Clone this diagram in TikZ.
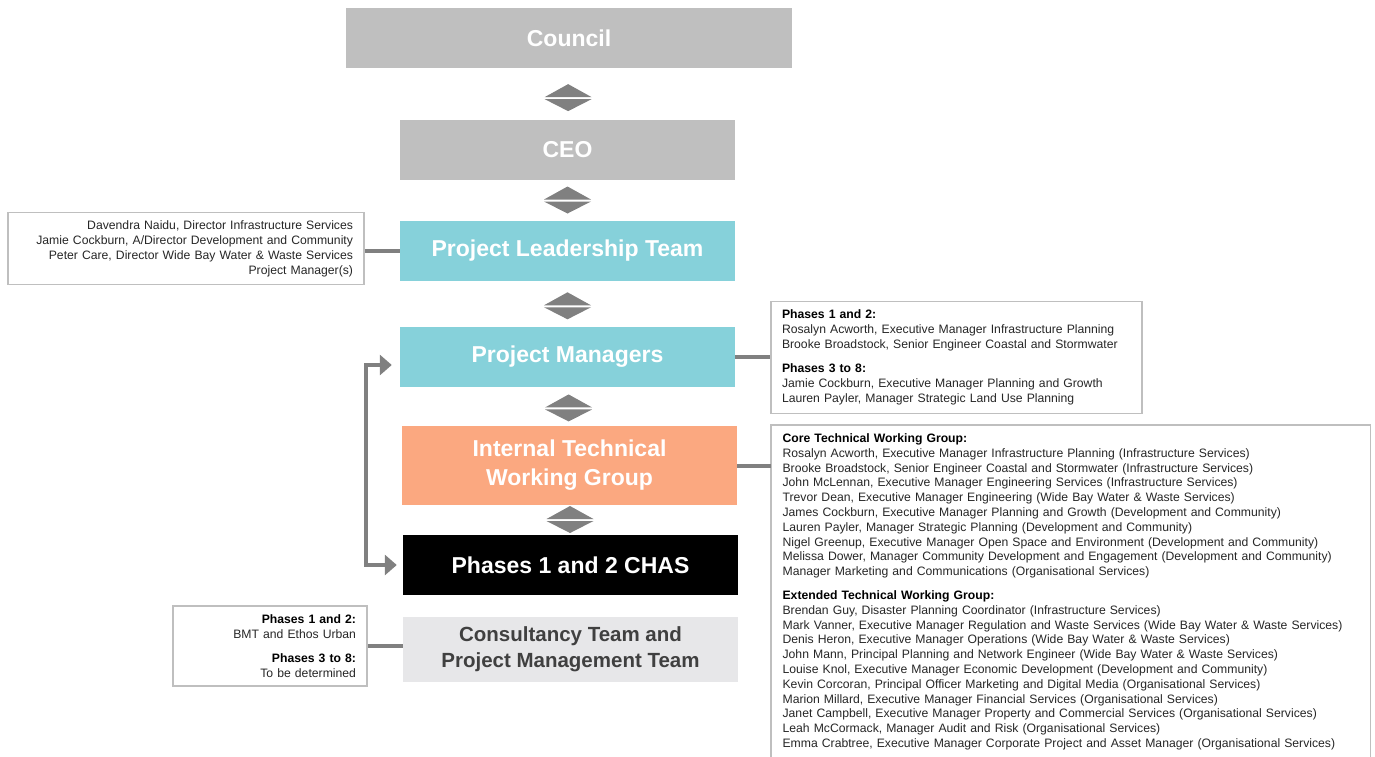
\documentclass[tikz,border=0pt]{standalone}
\usepackage{fontspec}
\setmainfont{Liberation Sans}
\usetikzlibrary{arrows.meta,calc}
\definecolor{boxgray}{RGB}{191,191,191}
\definecolor{leadcyan}{RGB}{134,209,218}
\definecolor{techorange}{RGB}{251,168,128}
\definecolor{consgray}{RGB}{231,231,233}
\definecolor{consdark}{RGB}{64,64,64}
\definecolor{linkgray}{RGB}{128,128,128}
\definecolor{framegray}{RGB}{191,191,191}
\definecolor{infotext}{RGB}{38,38,38}
\tikzset{
  level/.style={minimum width=335pt,minimum height=60pt,inner sep=0pt,align=center,
    text=white,font=\fontsize{23}{29}\selectfont\bfseries},
  info/.style={draw=framegray,line width=1.2pt,inner xsep=11pt,inner ysep=8pt,
    font=\fontsize{12.2}{15}\selectfont,text=infotext},
  link/.style={linkgray,line width=4pt},
}
\newcommand{\updown}[1]{\fill[linkgray,shift={(#1)}] (-23.5,-1) -- (23.5,-1) -- (0,-14) -- cycle
  (-23.5,1) -- (23.5,1) -- (0,13) -- cycle;}

\begin{document}
\begin{tikzpicture}[x=1pt,y=-1pt]
\useasboundingbox (0,0) rectangle (1375,756);
\node[level,fill=boxgray,minimum width=446pt] (council) at (569,38) {Council};
\node[level,fill=boxgray] (ceo) at (567.5,150) {CEO};
\node[level,fill=leadcyan] (plt) at (567.5,251) {Project Leadership Team};
\node[level,fill=leadcyan] (pm) at (567.5,357) {Project Managers};
\node[level,fill=techorange,minimum height=79pt] (itwg) at (569.5,465.5) {Internal Technical\\Working Group};
\node[level,fill=black] (chas) at (570.5,565) {Phases 1 and 2 CHAS};
\node[level,fill=consgray,minimum height=65pt,text=consdark,font=\fontsize{20.5}{26}\selectfont\bfseries] (cons) at (570.5,649.5) {Consultancy Team and\\Project Management Team};

\updown{$(council.south)!0.58!(ceo.north)$}
\updown{$(ceo.south)!0.5!(plt.north)$}
\updown{$(plt.south)!0.55!(pm.north)$}
\updown{$(pm.south)!0.55!(itwg.north)$}
\updown{$(itwg.south)!0.5!(chas.north)$}

\node[info,text width=334pt,align=right,minimum height=71pt] (lead) at (186,248.5) {Davendra Naidu, Director Infrastructure Services\\
Jamie Cockburn, A/Director Development and Community\\
Peter Care, Director Wide Bay Water \& Waste Services\\
Project Manager(s)};
\node[info,text width=349pt,align=left,minimum height=109pt] (pmnames) at (956.5,357.5) {\textcolor{black}{\bfseries Phases 1 and 2:}\\
Rosalyn Acworth, Executive Manager Infrastructure Planning\\
Brooke Broadstock, Senior Engineer Coastal and Stormwater\\[9pt]
\textcolor{black}{\bfseries Phases 3 to 8:}\\
Jamie Cockburn, Executive Manager Planning and Growth\\
Lauren Payler, Manager Strategic Land Use Planning};
\node[info,draw=none,text width=576pt,align=left,anchor=north west,font=\fontsize{12.2}{14.8}\selectfont] (twg) at (771,425) {\textcolor{black}{\bfseries Core Technical Working Group:}\\
Rosalyn Acworth, Executive Manager Infrastructure Planning (Infrastructure Services)\\
Brooke Broadstock, Senior Engineer Coastal and Stormwater (Infrastructure Services)\\
John McLennan, Executive Manager Engineering Services (Infrastructure Services)\\
Trevor Dean, Executive Manager Engineering (Wide Bay Water \& Waste Services)\\
James Cockburn, Executive Manager Planning and Growth (Development and Community)\\
Lauren Payler, Manager Strategic Planning (Development and Community)\\
Nigel Greenup, Executive Manager Open Space and Environment (Development and Community)\\
Melissa Dower, Manager Community Development and Engagement (Development and Community)\\
Manager Marketing and Communications (Organisational Services)\\[9pt]
\textcolor{black}{\bfseries Extended Technical Working Group:}\\
Brendan Guy, Disaster Planning Coordinator (Infrastructure Services)\\
Mark Vanner, Executive Manager Regulation and Waste Services (Wide Bay Water \& Waste Services)\\
Denis Heron, Executive Manager Operations (Wide Bay Water \& Waste Services)\\
John Mann, Principal Planning and Network Engineer (Wide Bay Water \& Waste Services)\\
Louise Knol, Executive Manager Economic Development (Development and Community)\\
Kevin Corcoran, Principal Officer Marketing and Digital Media (Organisational Services)\\
Marion Millard, Executive Manager Financial Services (Organisational Services)\\
Janet Campbell, Executive Manager Property and Commercial Services (Organisational Services)\\
Leah McCormack, Manager Audit and Risk (Organisational Services)\\
Emma Crabtree, Executive Manager Corporate Project and Asset Manager (Organisational Services)};
\draw[framegray,line width=1.2pt] ([yshift=-20pt]twg.south west) rectangle (twg.north east);
\node[info,text width=172pt,align=right,minimum height=80pt] (consnames) at (270,646) {\textcolor{black}{\bfseries Phases 1 and 2:}\\
BMT and Ethos Urban\\[9pt]
\textcolor{black}{\bfseries Phases 3 to 8:}\\
To be determined};

\draw[link] (lead.east |- plt.west) -- (plt.west);
\draw[link] (pm.east) -- (pm.east -| pmnames.west);
\draw[link] (itwg.east) -- (itwg.east -| twg.west);
\draw[link] (consnames.east) -- (consnames.east -| cons.west);
\draw[link,{Triangle[length=12pt,width=20pt]}-{Triangle[length=12pt,width=20pt]}] ([xshift=-8pt,yshift=-8pt]pm.west) -- ++(-26,0) |- ([xshift=-6pt]chas.west);
\end{tikzpicture}
\end{document}
